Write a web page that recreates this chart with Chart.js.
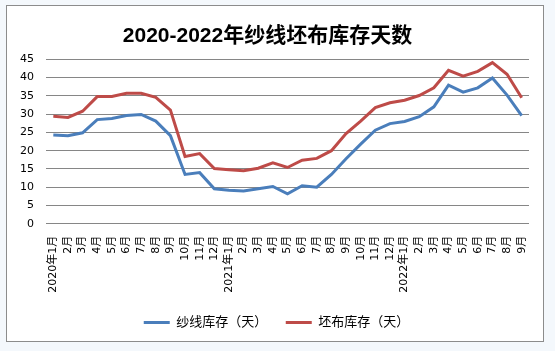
<!DOCTYPE html>
<html>
<head>
<meta charset="utf-8">
<script src="https://cdn.jsdelivr.net/npm/chart.js@4.4.0/dist/chart.umd.min.js"></script>
<style>
  html, body { margin: 0; padding: 0; background: #f4f8fc; }
  #wrap { width: 555px; height: 351px; }
</style>
</head>
<body>
<div id="wrap"><canvas id="c" width="555" height="351"></canvas></div>
<script>
const categories = [
  "2020年1月","2月","3月","4月","5月","6月","7月","8月","9月","10月","11月","12月",
  "2021年1月","2月","3月","4月","5月","6月","7月","8月","9月","10月","11月","12月",
  "2022年1月","2月","3月","4月","5月","6月","7月","8月","9月"
];
const yarnDays = [
  24.3, 24.1, 24.9, 28.5, 28.8, 29.6, 29.9, 28.1, 24.1, 13.5, 14.0, 9.6,
  9.2, 9.0, 9.6, 10.2, 8.2, 10.4, 10.0, 13.5, 17.8, 21.8, 25.6, 27.4,
  28.0, 29.3, 32.0, 37.9, 36.0, 37.2, 39.9, 35.2, 29.6
];
const greyClothDays = [
  29.4, 29.1, 30.8, 34.8, 34.8, 35.7, 35.7, 34.6, 31.1, 18.4, 19.2, 15.1,
  14.8, 14.5, 15.2, 16.7, 15.4, 17.4, 17.9, 20.0, 24.7, 28.1, 31.8, 33.1,
  33.8, 35.1, 37.2, 42.0, 40.4, 41.7, 44.1, 40.9, 34.5
];
const seriesNames = ["纱线库存（天）", "坯布库存（天）"];
const yTicks = [0, 5, 10, 15, 20, 25, 30, 35, 40, 45];
const titleText = "2020-2022年纱线坯布库存天数";

const frame = {
  id: 'frame',
  beforeDraw(chart) {
    const ctx = chart.ctx;
    ctx.save();
    ctx.fillStyle = '#f4f8fc';
    ctx.fillRect(0, 0, chart.width, chart.height);
    ctx.fillStyle = '#ffffff';
    ctx.fillRect(6.5, 5.5, 537, 336);
    ctx.strokeStyle = '#8c8c8c';
    ctx.lineWidth = 1;
    ctx.strokeRect(6.5, 5.5, 537, 336);
    ctx.restore();
  }
};

const legendShift = {
  id: 'legendShift',
  afterLayout(chart) {
    const lg = chart.legend;
    if (lg) { lg.left += 9; lg.right += 9; }
  }
};

const FONT = '"DejaVu Sans", "Noto Sans CJK SC", sans-serif';

new Chart(document.getElementById('c'), {
  type: 'line',
  data: {
    labels: categories,
    datasets: [
      { label: seriesNames[0], data: yarnDays, borderColor: '#4a7ebb', backgroundColor: '#4a7ebb',
        borderWidth: 3, pointRadius: 0, tension: 0 },
      { label: seriesNames[1], data: greyClothDays, borderColor: '#be4b48', backgroundColor: '#be4b48',
        borderWidth: 3, pointRadius: 0, tension: 0 }
    ]
  },
  options: {
    responsive: false,
    animation: false,
    devicePixelRatio: 1,
    layout: { padding: { left: 6, right: 26, top: 5, bottom: 12 } },
    plugins: {
      title: {
        display: true,
        text: titleText,
        color: '#000',
        font: { family: '"Liberation Sans", "Noto Sans CJK SC", sans-serif', size: 21, weight: 'bold', lineHeight: 1.2 },
        padding: { top: 18.9, bottom: 10.2 }
      },
      legend: {
        position: 'bottom',
        labels: {
          usePointStyle: true,
          pointStyle: 'line',
          pointStyleWidth: 26,
          boxHeight: 13,
          padding: 18.5,
          color: '#000',
          font: { family: FONT, size: 13 }
        }
      },
      tooltip: { enabled: false }
    },
    scales: {
      x: {
        offset: true,
        afterFit(scale) { scale.height = 73.7; },
        grid: { display: false, drawTicks: false },
        border: { display: false },
        ticks: {
          autoSkip: false, minRotation: 90, maxRotation: 90, padding: 12,
          color: '#000', font: { family: FONT, size: 11 }
        }
      },
      y: {
        min: 0, max: 45,
        afterFit(scale) { scale.width = 40; },
        afterBuildTicks(scale) { scale.ticks = yTicks.map(v => ({ value: v })); },
        grid: { color: '#868686', lineWidth: 1, drawTicks: false },
        border: { display: false },
        ticks: { padding: 12, color: '#000', font: { family: FONT, size: 11 } }
      }
    }
  },
  plugins: [frame, legendShift]
});
</script>
</body>
</html>
